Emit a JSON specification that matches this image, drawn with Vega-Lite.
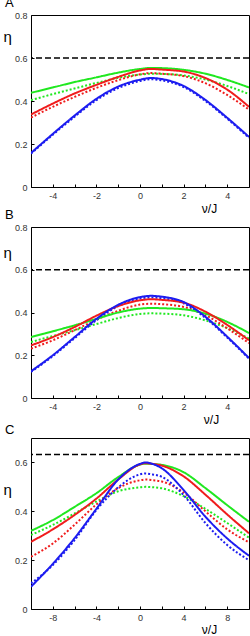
{
"$schema": "https://vega.github.io/schema/vega-lite/v6.json",
"padding": {"left": 2, "top": -4, "right": 0, "bottom": 0},
"spacing": 40,
"bounds": "flush",
"config": {
  "font": "Liberation Sans",
  "view": {"stroke": "black", "strokeWidth": 1},
  "axis": {"domain": false, "grid": false, "tickColor": "black", "tickSize": -3, "labelFontSize": 9, "labelColor": "#333", "labelPadding": 7, "titleFontWeight": "normal", "titleColor": "black", "labelFlush": false},
  "title": {"anchor": "start", "fontSize": 13, "fontWeight": "normal", "offset": 1, "dx": 2}
},
"datasets": {
"A": [
{"v":-5,"eta":0.404,"c":"g","s":"dotted"},{"v":-4,"eta":0.432,"c":"g","s":"dotted"},{"v":-3,"eta":0.458,"c":"g","s":"dotted"},{"v":-2,"eta":0.484,"c":"g","s":"dotted"},{"v":-1,"eta":0.508,"c":"g","s":"dotted"},{"v":0,"eta":0.523,"c":"g","s":"dotted"},{"v":0.5,"eta":0.527,"c":"g","s":"dotted"},{"v":1,"eta":0.526,"c":"g","s":"dotted"},{"v":2,"eta":0.519,"c":"g","s":"dotted"},{"v":3,"eta":0.500,"c":"g","s":"dotted"},{"v":4,"eta":0.470,"c":"g","s":"dotted"},{"v":5,"eta":0.432,"c":"g","s":"dotted"},
{"v":-5,"eta":0.323,"c":"r","s":"dotted"},{"v":-4,"eta":0.373,"c":"r","s":"dotted"},{"v":-3,"eta":0.419,"c":"r","s":"dotted"},{"v":-2,"eta":0.461,"c":"r","s":"dotted"},{"v":-1,"eta":0.497,"c":"r","s":"dotted"},{"v":0,"eta":0.524,"c":"r","s":"dotted"},{"v":0.5,"eta":0.530,"c":"r","s":"dotted"},{"v":1,"eta":0.527,"c":"r","s":"dotted"},{"v":2,"eta":0.516,"c":"r","s":"dotted"},{"v":3,"eta":0.483,"c":"r","s":"dotted"},{"v":4,"eta":0.428,"c":"r","s":"dotted"},{"v":5,"eta":0.360,"c":"r","s":"dotted"},
{"v":-5,"eta":0.155,"c":"b","s":"dotted"},{"v":-4,"eta":0.243,"c":"b","s":"dotted"},{"v":-3,"eta":0.327,"c":"b","s":"dotted"},{"v":-2,"eta":0.404,"c":"b","s":"dotted"},{"v":-1,"eta":0.460,"c":"b","s":"dotted"},{"v":0,"eta":0.493,"c":"b","s":"dotted"},{"v":0.5,"eta":0.501,"c":"b","s":"dotted"},{"v":1,"eta":0.496,"c":"b","s":"dotted"},{"v":2,"eta":0.465,"c":"b","s":"dotted"},{"v":3,"eta":0.400,"c":"b","s":"dotted"},{"v":4,"eta":0.318,"c":"b","s":"dotted"},{"v":5,"eta":0.229,"c":"b","s":"dotted"},
{"v":-5,"eta":0.438,"c":"g","s":"solid"},{"v":-4,"eta":0.463,"c":"g","s":"solid"},{"v":-3,"eta":0.488,"c":"g","s":"solid"},{"v":-2,"eta":0.510,"c":"g","s":"solid"},{"v":-1,"eta":0.532,"c":"g","s":"solid"},{"v":0,"eta":0.549,"c":"g","s":"solid"},{"v":0.5,"eta":0.554,"c":"g","s":"solid"},{"v":1,"eta":0.553,"c":"g","s":"solid"},{"v":2,"eta":0.545,"c":"g","s":"solid"},{"v":3,"eta":0.527,"c":"g","s":"solid"},{"v":4,"eta":0.498,"c":"g","s":"solid"},{"v":5,"eta":0.463,"c":"g","s":"solid"},
{"v":-5,"eta":0.337,"c":"r","s":"solid"},{"v":-4,"eta":0.388,"c":"r","s":"solid"},{"v":-3,"eta":0.435,"c":"r","s":"solid"},{"v":-2,"eta":0.475,"c":"r","s":"solid"},{"v":-1,"eta":0.512,"c":"r","s":"solid"},{"v":0,"eta":0.542,"c":"r","s":"solid"},{"v":0.5,"eta":0.549,"c":"r","s":"solid"},{"v":1,"eta":0.546,"c":"r","s":"solid"},{"v":2,"eta":0.537,"c":"r","s":"solid"},{"v":3,"eta":0.507,"c":"r","s":"solid"},{"v":4,"eta":0.453,"c":"r","s":"solid"},{"v":5,"eta":0.373,"c":"r","s":"solid"},
{"v":-5,"eta":0.158,"c":"b","s":"solid"},{"v":-4,"eta":0.247,"c":"b","s":"solid"},{"v":-3,"eta":0.332,"c":"b","s":"solid"},{"v":-2,"eta":0.410,"c":"b","s":"solid"},{"v":-1,"eta":0.467,"c":"b","s":"solid"},{"v":0,"eta":0.499,"c":"b","s":"solid"},{"v":0.5,"eta":0.507,"c":"b","s":"solid"},{"v":1,"eta":0.502,"c":"b","s":"solid"},{"v":2,"eta":0.470,"c":"b","s":"solid"},{"v":3,"eta":0.405,"c":"b","s":"solid"},{"v":4,"eta":0.322,"c":"b","s":"solid"},{"v":5,"eta":0.233,"c":"b","s":"solid"}
],
"B": [
{"v":-5,"eta":0.262,"c":"g","s":"dotted"},{"v":-4,"eta":0.290,"c":"g","s":"dotted"},{"v":-3,"eta":0.317,"c":"g","s":"dotted"},{"v":-2,"eta":0.346,"c":"g","s":"dotted"},{"v":-1,"eta":0.374,"c":"g","s":"dotted"},{"v":0,"eta":0.393,"c":"g","s":"dotted"},{"v":0.5,"eta":0.396,"c":"g","s":"dotted"},{"v":1,"eta":0.395,"c":"g","s":"dotted"},{"v":2,"eta":0.387,"c":"g","s":"dotted"},{"v":3,"eta":0.363,"c":"g","s":"dotted"},{"v":4,"eta":0.327,"c":"g","s":"dotted"},{"v":5,"eta":0.278,"c":"g","s":"dotted"},
{"v":-5,"eta":0.231,"c":"r","s":"dotted"},{"v":-4,"eta":0.270,"c":"r","s":"dotted"},{"v":-3,"eta":0.317,"c":"r","s":"dotted"},{"v":-2,"eta":0.366,"c":"r","s":"dotted"},{"v":-1,"eta":0.408,"c":"r","s":"dotted"},{"v":0,"eta":0.437,"c":"r","s":"dotted"},{"v":0.5,"eta":0.441,"c":"r","s":"dotted"},{"v":1,"eta":0.439,"c":"r","s":"dotted"},{"v":2,"eta":0.426,"c":"r","s":"dotted"},{"v":3,"eta":0.388,"c":"r","s":"dotted"},{"v":4,"eta":0.326,"c":"r","s":"dotted"},{"v":5,"eta":0.257,"c":"r","s":"dotted"},
{"v":-5,"eta":0.122,"c":"b","s":"dotted"},{"v":-4,"eta":0.196,"c":"b","s":"dotted"},{"v":-3,"eta":0.280,"c":"b","s":"dotted"},{"v":-2,"eta":0.364,"c":"b","s":"dotted"},{"v":-1,"eta":0.430,"c":"b","s":"dotted"},{"v":0,"eta":0.465,"c":"b","s":"dotted"},{"v":0.5,"eta":0.470,"c":"b","s":"dotted"},{"v":1,"eta":0.467,"c":"b","s":"dotted"},{"v":2,"eta":0.443,"c":"b","s":"dotted"},{"v":3,"eta":0.375,"c":"b","s":"dotted"},{"v":4,"eta":0.283,"c":"b","s":"dotted"},{"v":5,"eta":0.184,"c":"b","s":"dotted"},
{"v":-5,"eta":0.285,"c":"g","s":"solid"},{"v":-4,"eta":0.312,"c":"g","s":"solid"},{"v":-3,"eta":0.340,"c":"g","s":"solid"},{"v":-2,"eta":0.370,"c":"g","s":"solid"},{"v":-1,"eta":0.400,"c":"g","s":"solid"},{"v":0,"eta":0.418,"c":"g","s":"solid"},{"v":0.5,"eta":0.421,"c":"g","s":"solid"},{"v":1,"eta":0.420,"c":"g","s":"solid"},{"v":2,"eta":0.415,"c":"g","s":"solid"},{"v":3,"eta":0.395,"c":"g","s":"solid"},{"v":4,"eta":0.356,"c":"g","s":"solid"},{"v":5,"eta":0.304,"c":"g","s":"solid"},
{"v":-5,"eta":0.246,"c":"r","s":"solid"},{"v":-4,"eta":0.285,"c":"r","s":"solid"},{"v":-3,"eta":0.332,"c":"r","s":"solid"},{"v":-2,"eta":0.385,"c":"r","s":"solid"},{"v":-1,"eta":0.430,"c":"r","s":"solid"},{"v":0,"eta":0.457,"c":"r","s":"solid"},{"v":0.5,"eta":0.462,"c":"r","s":"solid"},{"v":1,"eta":0.459,"c":"r","s":"solid"},{"v":2,"eta":0.446,"c":"r","s":"solid"},{"v":3,"eta":0.404,"c":"r","s":"solid"},{"v":4,"eta":0.342,"c":"r","s":"solid"},{"v":5,"eta":0.270,"c":"r","s":"solid"},
{"v":-5,"eta":0.125,"c":"b","s":"solid"},{"v":-4,"eta":0.200,"c":"b","s":"solid"},{"v":-3,"eta":0.285,"c":"b","s":"solid"},{"v":-2,"eta":0.370,"c":"b","s":"solid"},{"v":-1,"eta":0.436,"c":"b","s":"solid"},{"v":0,"eta":0.472,"c":"b","s":"solid"},{"v":0.5,"eta":0.478,"c":"b","s":"solid"},{"v":1,"eta":0.474,"c":"b","s":"solid"},{"v":2,"eta":0.449,"c":"b","s":"solid"},{"v":3,"eta":0.380,"c":"b","s":"solid"},{"v":4,"eta":0.287,"c":"b","s":"solid"},{"v":5,"eta":0.187,"c":"b","s":"solid"}
],
"C": [
{"v":-10,"eta":0.303,"c":"g","s":"dotted"},{"v":-8,"eta":0.344,"c":"g","s":"dotted"},{"v":-6,"eta":0.391,"c":"g","s":"dotted"},{"v":-4,"eta":0.440,"c":"g","s":"dotted"},{"v":-2,"eta":0.482,"c":"g","s":"dotted"},{"v":0,"eta":0.498,"c":"g","s":"dotted"},{"v":0.5,"eta":0.500,"c":"g","s":"dotted"},{"v":1,"eta":0.499,"c":"g","s":"dotted"},{"v":2,"eta":0.494,"c":"g","s":"dotted"},{"v":4,"eta":0.462,"c":"g","s":"dotted"},{"v":6,"eta":0.410,"c":"g","s":"dotted"},{"v":8,"eta":0.352,"c":"g","s":"dotted"},{"v":10,"eta":0.292,"c":"g","s":"dotted"},
{"v":-10,"eta":0.214,"c":"r","s":"dotted"},{"v":-8,"eta":0.268,"c":"r","s":"dotted"},{"v":-6,"eta":0.345,"c":"r","s":"dotted"},{"v":-4,"eta":0.428,"c":"r","s":"dotted"},{"v":-2,"eta":0.495,"c":"r","s":"dotted"},{"v":0,"eta":0.527,"c":"r","s":"dotted"},{"v":0.5,"eta":0.530,"c":"r","s":"dotted"},{"v":1,"eta":0.528,"c":"r","s":"dotted"},{"v":2,"eta":0.522,"c":"r","s":"dotted"},{"v":4,"eta":0.477,"c":"r","s":"dotted"},{"v":6,"eta":0.400,"c":"r","s":"dotted"},{"v":8,"eta":0.326,"c":"r","s":"dotted"},{"v":10,"eta":0.273,"c":"r","s":"dotted"},
{"v":-10,"eta":0.105,"c":"b","s":"dotted"},{"v":-8,"eta":0.180,"c":"b","s":"dotted"},{"v":-6,"eta":0.282,"c":"b","s":"dotted"},{"v":-4,"eta":0.405,"c":"b","s":"dotted"},{"v":-2,"eta":0.498,"c":"b","s":"dotted"},{"v":0,"eta":0.551,"c":"b","s":"dotted"},{"v":0.5,"eta":0.555,"c":"b","s":"dotted"},{"v":1,"eta":0.552,"c":"b","s":"dotted"},{"v":2,"eta":0.541,"c":"b","s":"dotted"},{"v":4,"eta":0.466,"c":"b","s":"dotted"},{"v":6,"eta":0.352,"c":"b","s":"dotted"},{"v":8,"eta":0.262,"c":"b","s":"dotted"},{"v":10,"eta":0.200,"c":"b","s":"dotted"},
{"v":-10,"eta":0.320,"c":"g","s":"solid"},{"v":-8,"eta":0.364,"c":"g","s":"solid"},{"v":-6,"eta":0.418,"c":"g","s":"solid"},{"v":-4,"eta":0.474,"c":"g","s":"solid"},{"v":-2,"eta":0.540,"c":"g","s":"solid"},{"v":0,"eta":0.591,"c":"g","s":"solid"},{"v":0.5,"eta":0.595,"c":"g","s":"solid"},{"v":1,"eta":0.594,"c":"g","s":"solid"},{"v":2,"eta":0.590,"c":"g","s":"solid"},{"v":4,"eta":0.560,"c":"g","s":"solid"},{"v":6,"eta":0.495,"c":"g","s":"solid"},{"v":8,"eta":0.425,"c":"g","s":"solid"},{"v":10,"eta":0.357,"c":"g","s":"solid"},
{"v":-10,"eta":0.275,"c":"r","s":"solid"},{"v":-8,"eta":0.326,"c":"r","s":"solid"},{"v":-6,"eta":0.385,"c":"r","s":"solid"},{"v":-4,"eta":0.452,"c":"r","s":"solid"},{"v":-2,"eta":0.530,"c":"r","s":"solid"},{"v":0,"eta":0.592,"c":"r","s":"solid"},{"v":0.5,"eta":0.597,"c":"r","s":"solid"},{"v":1,"eta":0.595,"c":"r","s":"solid"},{"v":2,"eta":0.587,"c":"r","s":"solid"},{"v":4,"eta":0.543,"c":"r","s":"solid"},{"v":6,"eta":0.468,"c":"r","s":"solid"},{"v":8,"eta":0.387,"c":"r","s":"solid"},{"v":10,"eta":0.310,"c":"r","s":"solid"},
{"v":-10,"eta":0.091,"c":"b","s":"solid"},{"v":-8,"eta":0.185,"c":"b","s":"solid"},{"v":-6,"eta":0.290,"c":"b","s":"solid"},{"v":-4,"eta":0.410,"c":"b","s":"solid"},{"v":-2,"eta":0.530,"c":"b","s":"solid"},{"v":0,"eta":0.594,"c":"b","s":"solid"},{"v":0.5,"eta":0.600,"c":"b","s":"solid"},{"v":1,"eta":0.596,"c":"b","s":"solid"},{"v":2,"eta":0.576,"c":"b","s":"solid"},{"v":4,"eta":0.487,"c":"b","s":"solid"},{"v":6,"eta":0.378,"c":"b","s":"solid"},{"v":8,"eta":0.289,"c":"b","s":"solid"},{"v":10,"eta":0.218,"c":"b","s":"solid"}
]
},
"vconcat": [
{
  "title": "A", "width": 218, "height": 172,
  "layer": [
    {"data": {"name": "A"},
     "mark": {"type": "line", "interpolate": "monotone", "strokeWidth": 2, "clip": true},
     "encoding": {
       "x": {"field": "v", "type": "quantitative", "scale": {"domain": [-5, 5], "nice": false, "zero": false},
             "axis": {"values": [-5,-4,-3,-2,-1,0,1,2,3,4,5], "labelExpr": "datum.value % 2 === 0 ? '' + datum.value : ''", "title": "ν/J", "titleFontSize": 12, "titleX": 178, "titleY": 21, "titleAlign": "center", "titleBaseline": "middle"}},
       "y": {"field": "eta", "type": "quantitative", "scale": {"domain": [0, 0.8], "nice": false},
             "axis": {"values": [0,0.1,0.2,0.3,0.4,0.5,0.6,0.7,0.8], "labelExpr": "round(datum.value*10) % 2 === 0 ? format(datum.value, '.1~f') : ''", "title": "η", "titleFontSize": 15, "titleAngle": 0, "titleX": -28, "titleY": 21, "titleAlign": "left", "titleBaseline": "middle"}},
       "color": {"field": "c", "type": "nominal", "scale": {"domain": ["g", "r", "b"], "range": ["#20e820", "#f01c1c", "#1c1cf0"]}, "legend": null},
       "strokeDash": {"field": "s", "type": "nominal", "scale": {"domain": ["solid", "dotted"], "range": [[1, 0], [2, 2]]}, "legend": null}
     }},
    {"data": {"values": [{"eta": 0.6}]},
     "mark": {"type": "rule", "strokeDash": [6, 3], "strokeWidth": 1.5, "color": "black"},
     "encoding": {"y": {"field": "eta", "type": "quantitative"}}}
  ]
},
{
  "title": "B", "width": 218, "height": 171,
  "layer": [
    {"data": {"name": "B"},
     "mark": {"type": "line", "interpolate": "monotone", "strokeWidth": 2, "clip": true},
     "encoding": {
       "x": {"field": "v", "type": "quantitative", "scale": {"domain": [-5, 5], "nice": false, "zero": false},
             "axis": {"values": [-5,-4,-3,-2,-1,0,1,2,3,4,5], "labelExpr": "datum.value % 2 === 0 ? '' + datum.value : ''", "title": "ν/J", "titleFontSize": 12, "titleX": 180, "titleY": 21, "titleAlign": "center", "titleBaseline": "middle"}},
       "y": {"field": "eta", "type": "quantitative", "scale": {"domain": [0, 0.8], "nice": false},
             "axis": {"values": [0,0.1,0.2,0.3,0.4,0.5,0.6,0.7,0.8], "labelExpr": "round(datum.value*10) % 2 === 0 ? format(datum.value, '.1~f') : ''", "title": "η", "titleFontSize": 15, "titleAngle": 0, "titleX": -28, "titleY": 25, "titleAlign": "left", "titleBaseline": "middle"}},
       "color": {"field": "c", "type": "nominal", "scale": {"domain": ["g", "r", "b"], "range": ["#20e820", "#f01c1c", "#1c1cf0"]}, "legend": null},
       "strokeDash": {"field": "s", "type": "nominal", "scale": {"domain": ["solid", "dotted"], "range": [[1, 0], [2, 2]]}, "legend": null}
     }},
    {"data": {"values": [{"eta": 0.6}]},
     "mark": {"type": "rule", "strokeDash": [6, 3], "strokeWidth": 1.5, "color": "black"},
     "encoding": {"y": {"field": "eta", "type": "quantitative"}}}
  ]
},
{
  "title": "C", "width": 218, "height": 171,
  "layer": [
    {"data": {"name": "C"},
     "mark": {"type": "line", "interpolate": "monotone", "strokeWidth": 2, "clip": true},
     "encoding": {
       "x": {"field": "v", "type": "quantitative", "scale": {"domain": [-10, 10], "nice": false, "zero": false},
             "axis": {"values": [-10,-8,-6,-4,-2,0,2,4,6,8,10], "labelExpr": "datum.value % 4 === 0 ? '' + datum.value : ''", "title": "ν/J", "titleFontSize": 12, "titleX": 178, "titleY": 20, "titleAlign": "center", "titleBaseline": "middle"}},
       "y": {"field": "eta", "type": "quantitative", "scale": {"domain": [0, 0.7], "nice": false},
             "axis": {"values": [0,0.1,0.2,0.3,0.4,0.5,0.6], "labelExpr": "round(datum.value*10) % 2 === 0 ? format(datum.value, '.1~f') : ''", "title": "η", "titleFontSize": 15, "titleAngle": 0, "titleX": -28, "titleY": 51, "titleAlign": "left", "titleBaseline": "middle"}},
       "color": {"field": "c", "type": "nominal", "scale": {"domain": ["g", "r", "b"], "range": ["#20e820", "#f01c1c", "#1c1cf0"]}, "legend": null},
       "strokeDash": {"field": "s", "type": "nominal", "scale": {"domain": ["solid", "dotted"], "range": [[1, 0], [2, 2]]}, "legend": null}
     }},
    {"data": {"values": [{"eta": 0.632}]},
     "mark": {"type": "rule", "strokeDash": [6, 3], "strokeWidth": 1.5, "color": "black"},
     "encoding": {"y": {"field": "eta", "type": "quantitative"}}}
  ]
}
]
}
